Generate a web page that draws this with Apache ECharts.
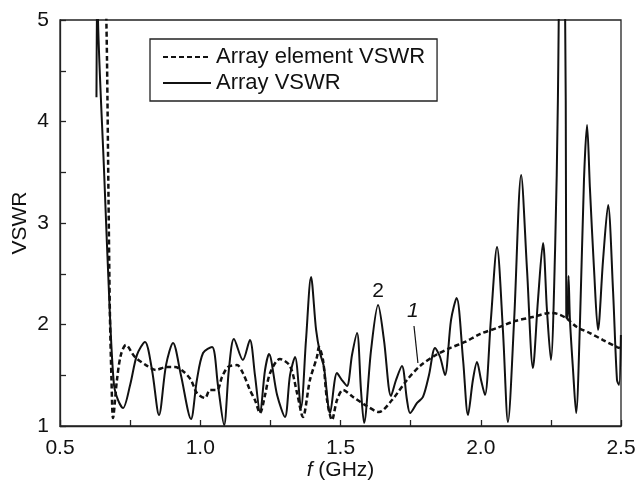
<!DOCTYPE html>
<html>
<head>
<meta charset="utf-8">
<script src="https://cdn.jsdelivr.net/npm/echarts@6/dist/echarts.min.js"></script>
<style>html,body{margin:0;padding:0;background:#fff}#c{width:638px;height:485px}</style>
</head>
<body>
<div id="c"></div>
<script>
// Array VSWR (solid)
var freqArray = [0.630,0.6335,0.6355,0.657,0.678,0.6925,0.707,0.7246,0.750,0.7745,0.803,0.828,0.853,0.878,0.903,0.931,0.967,0.988,1.010,1.042,1.063,1.085,1.102,1.120,1.152,1.177,1.195,1.213,1.231,1.245,1.274,1.302,1.320,1.338,1.359,1.377,1.395,1.413,1.427,1.441,1.4626,1.4875,1.505,1.523,1.541,1.559,1.573,1.584,1.609,1.634,1.655,1.680,1.698,1.719,1.737,1.748,1.773,1.794,1.8155,1.837,1.855,1.8725,1.894,1.914,1.937,1.9545,1.972,1.9866,2.001,2.015,2.036,2.058,2.079,2.097,2.119,2.144,2.165,2.186,2.204,2.222,2.236,2.250,2.265,2.275,2.2895,2.303,2.305,2.310,2.313,2.318,2.329,2.340,2.354,2.368,2.379,2.389,2.404,2.418,2.436,2.454,2.4715,2.4857,2.493,2.4996];
var vswrArray = [4.24,5.8,5.0,3.52,2.094,1.404,1.256,1.177,1.404,1.70,1.828,1.552,1.108,1.60,1.818,1.502,1.069,1.453,1.719,1.778,1.404,1.01,1.552,1.857,1.650,1.847,1.502,1.138,1.552,1.709,1.305,1.089,1.502,1.680,1.177,1.847,2.468,1.946,1.719,1.581,1.128,1.522,1.453,1.394,1.70,1.916,1.355,1.03,1.749,2.192,1.847,1.296,1.453,1.591,1.256,1.128,1.227,1.286,1.502,1.768,1.680,1.502,2.044,2.261,1.650,1.108,1.453,1.631,1.453,1.305,2.044,2.764,1.946,1.039,2.044,3.473,2.537,1.571,2.241,2.803,2.143,1.650,2.734,4.21,8.0,4.21,2.064,2.064,2.478,2.044,1.552,1.128,2.044,3.424,3.966,3.355,2.537,1.946,2.635,3.177,2.340,1.453,1.404,1.897];
// Array element VSWR (dashed)
var freqElement = [0.664,0.6676,0.673,0.678,0.6836,0.689,0.703,0.717,0.735,0.767,0.8066,0.842,0.878,0.910,0.942,0.967,0.988,1.017,1.035,1.060,1.0775,1.099,1.131,1.152,1.177,1.195,1.213,1.231,1.249,1.284,1.320,1.345,1.366,1.391,1.416,1.423,1.4376,1.452,1.4697,1.4875,1.509,1.5446,1.594,1.637,1.6836,1.737,1.7834,1.8405,1.890,1.944,1.997,2.058,2.122,2.186,2.247,2.275,2.304,2.343,2.389,2.436,2.4857,2.496];
var vswrElement = [5.2,4.606,3.227,2.094,1.453,1.079,1.453,1.70,1.798,1.680,1.60,1.552,1.581,1.581,1.532,1.453,1.325,1.276,1.355,1.355,1.483,1.581,1.60,1.522,1.355,1.256,1.128,1.305,1.522,1.660,1.591,1.325,1.089,1.453,1.680,1.778,1.650,1.256,1.059,1.256,1.355,1.286,1.197,1.138,1.256,1.453,1.591,1.70,1.768,1.828,1.906,1.966,2.034,2.074,2.113,2.103,2.064,1.975,1.916,1.847,1.778,1.768];
var xTicks = [0.5,1.0,1.5,2.0,2.5];
var yTicks = [1,2,3,4,5];
var seriesNames = ['Array element VSWR','Array VSWR'];
// curve labels: [text, f, vswr]
var curveLabels = [['2',1.634,2.33],['1',1.758,2.133]];
var leader = [[1.762,1.985],[1.776,1.621]];

function zip(a,b){return a.map(function(v,i){return [v,b[i]];});}
var FONT = 'Liberation Sans, Arial, sans-serif';
var chart = echarts.init(document.getElementById('c'), null, {renderer:'canvas'});
chart.setOption({
  animation:false,
  backgroundColor:'#fff',
  grid:{left:60,right:17,top:20,bottom:59,containLabel:false,outerBoundsMode:'none',show:true,borderColor:'#222',borderWidth:1.3,backgroundColor:'transparent'},
  legend:{
    orient:'vertical',left:150,top:39,
    padding:[7,12,7,12],
    itemGap:4,itemWidth:48,itemHeight:14,
    borderColor:'#222',borderWidth:1.3,
    itemStyle:{opacity:0},
    textStyle:{fontFamily:FONT,fontSize:22,color:'#111',lineHeight:22},
    data:seriesNames
  },
  xAxis:{
    type:'value',min:0.5,max:2.5,interval:0.5,
    name:'{i|f} (GHz)',nameLocation:'middle',nameGap:34,nameMoveOverlap:false,
    nameTextStyle:{fontFamily:FONT,fontSize:21,color:'#111',rich:{i:{fontStyle:'italic',fontFamily:FONT,fontSize:21,color:'#111'}}},
    axisLine:{lineStyle:{color:'#222',width:1.3}},
    axisTick:{inside:true,length:6,lineStyle:{color:'#222',width:1.3}},
    minorTick:{show:true,splitNumber:2,length:6,lineStyle:{color:'#222',width:1.3}},
    splitLine:{show:false},
    axisLabel:{fontFamily:FONT,fontSize:21,color:'#111',margin:12,formatter:function(v){return xTicks.indexOf(v)>=0?v.toFixed(1):'';}}
  },
  yAxis:{
    type:'value',min:1,max:5,interval:1,
    name:'VSWR',nameLocation:'middle',nameGap:29,nameRotate:90,nameMoveOverlap:false,
    nameTextStyle:{fontFamily:FONT,fontSize:21,color:'#111'},
    axisLine:{show:true,lineStyle:{color:'#222',width:1.3}},
    axisTick:{inside:true,length:6,lineStyle:{color:'#222',width:1.3}},
    minorTick:{show:true,splitNumber:2,length:6,lineStyle:{color:'#222',width:1.3}},
    splitLine:{show:false},
    axisLabel:{fontFamily:FONT,fontSize:21,color:'#111',margin:11,formatter:function(v){return yTicks.indexOf(v)>=0?String(v):'';}}
  },
  series:[
    {name:seriesNames[0],type:'line',data:zip(freqElement,vswrElement),showSymbol:false,symbol:'none',smooth:0.3,clip:true,
     itemStyle:{color:'#111'},
     lineStyle:{color:'#111',width:2.5,type:[5,3]},z:2},
    {name:seriesNames[1],type:'line',data:zip(freqArray,vswrArray),showSymbol:false,symbol:'none',smooth:0.3,clip:true,
     itemStyle:{color:'#111'},
     lineStyle:{color:'#111',width:2},z:3,
     markPoint:{symbol:'circle',symbolSize:0,silent:true,itemStyle:{color:'transparent'},
       data:curveLabels.map(function(c,i){return {coord:[c[1],c[2]],value:c[0],
         label:{show:true,position:'inside',formatter:c[0],fontFamily:FONT,fontSize:21,color:'#111',fontStyle:i===1?'italic':'normal'}};})},
     markLine:{symbol:'none',silent:true,label:{show:false},lineStyle:{type:'solid',color:'#111',width:1.2},
       data:[[{coord:leader[0]},{coord:leader[1]}]]}
    }
  ]
});
</script>
</body>
</html>
